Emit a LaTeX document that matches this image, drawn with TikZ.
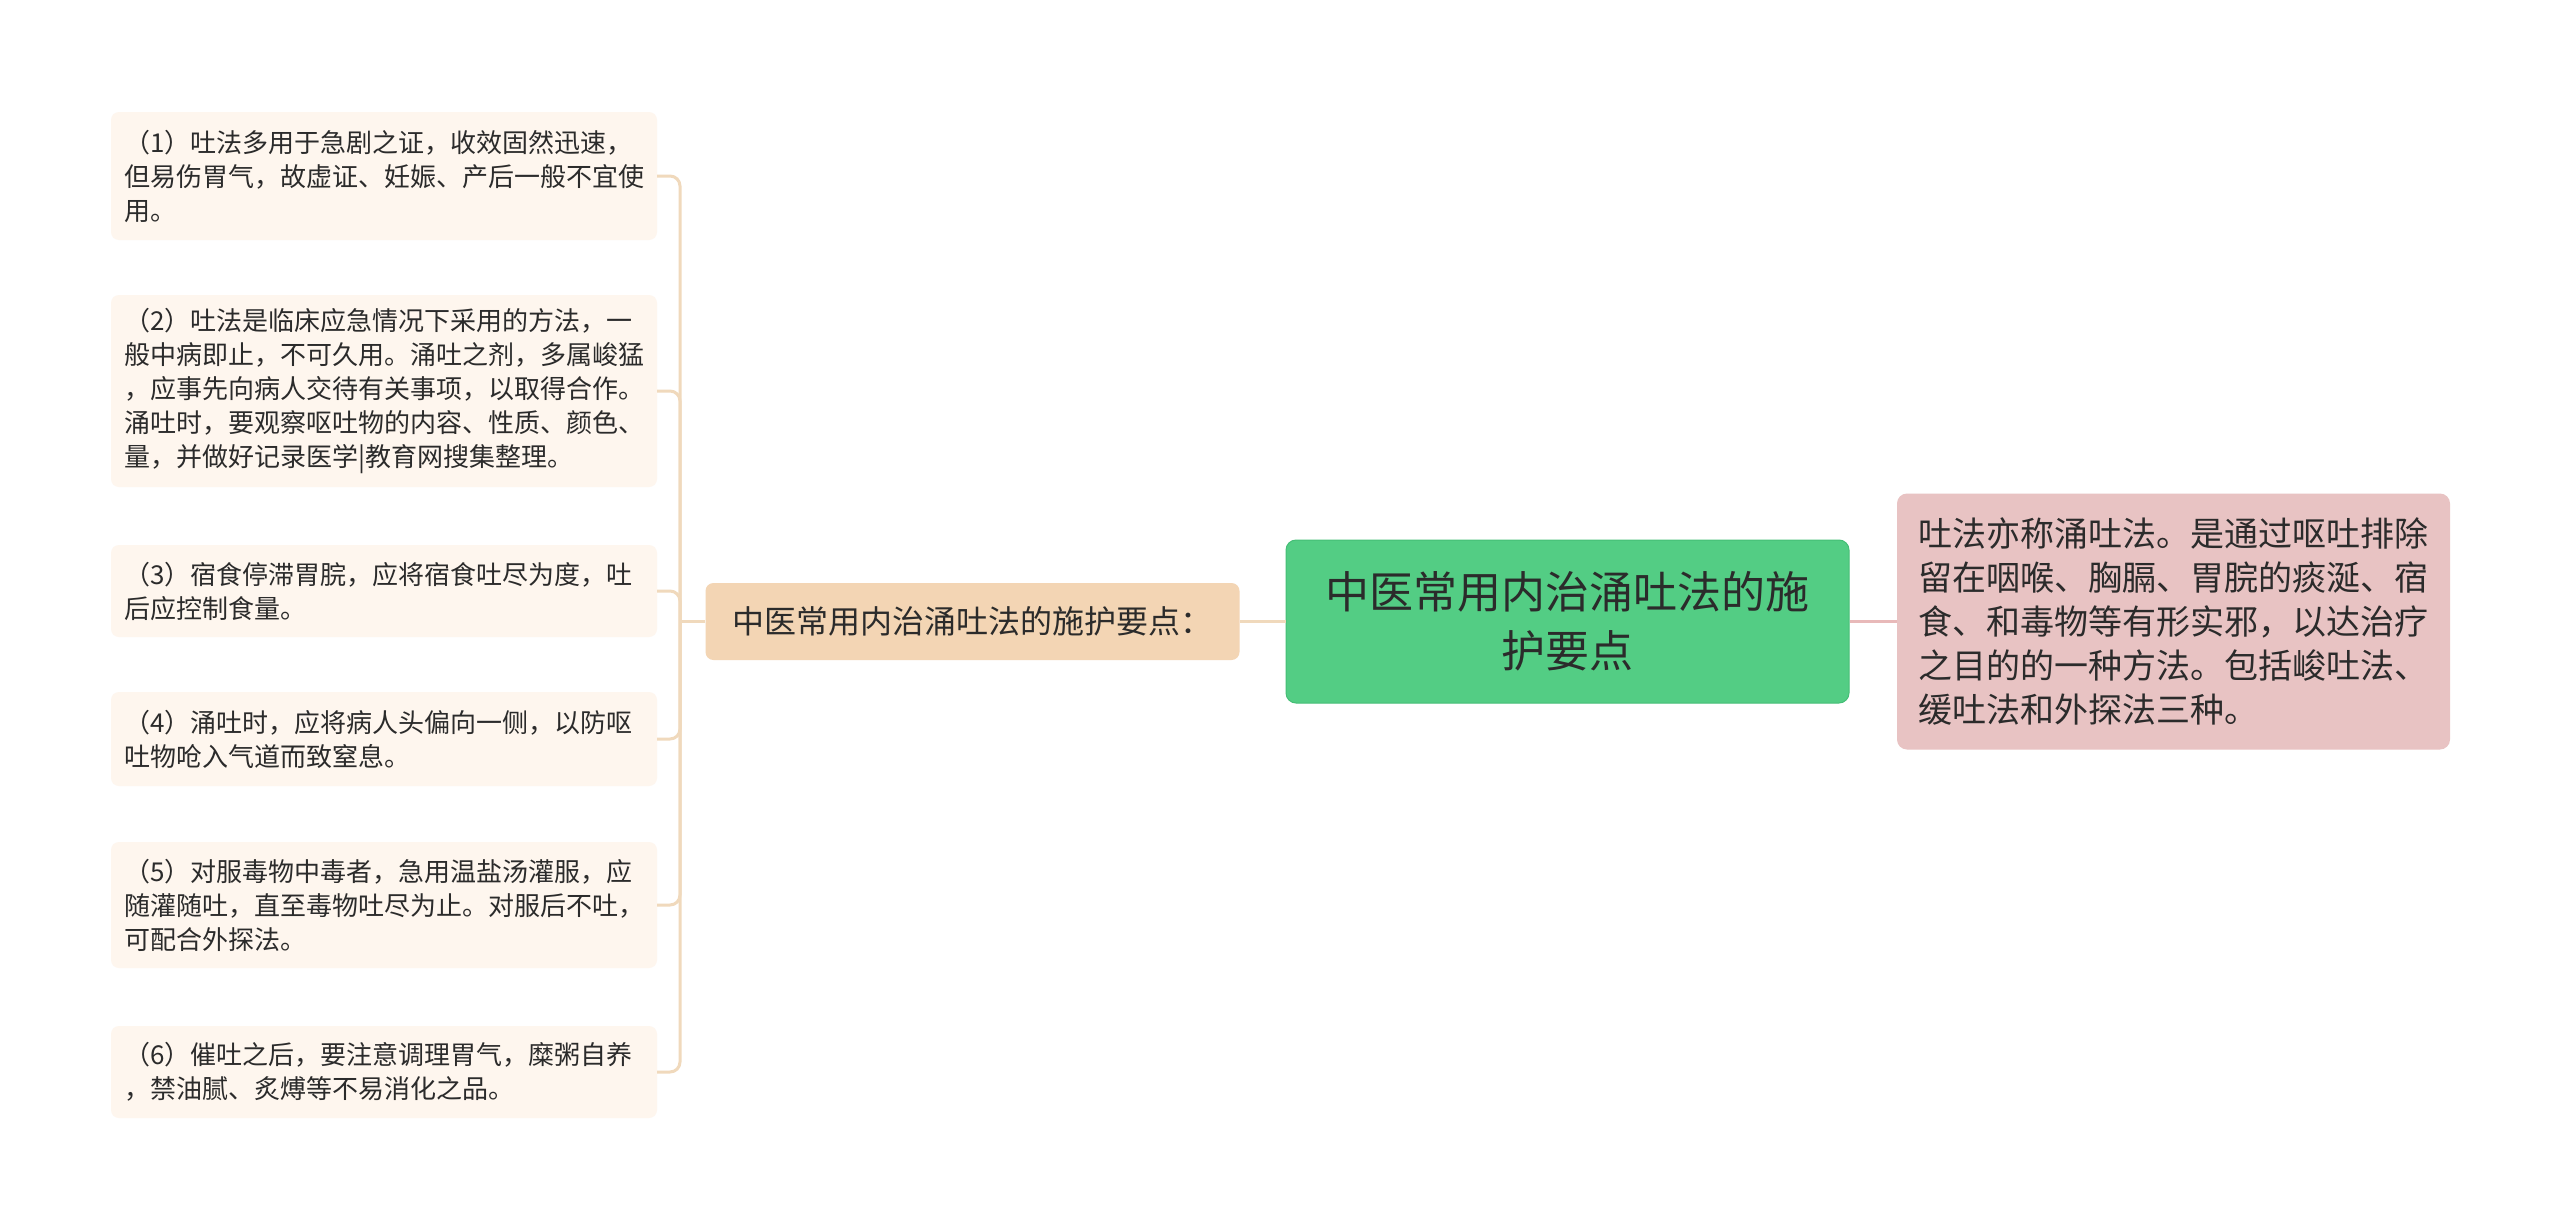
\documentclass[tikz,border=0pt]{standalone}
\usepackage{fontspec}
\newfontfamily\cjk{Noto Sans CJK SC}
\definecolor{leafc}{HTML}{FEF6EE}
\definecolor{midc}{HTML}{F3D5B4}
\definecolor{rootc}{HTML}{53CD84}
\definecolor{rootb}{HTML}{45BE76}
\definecolor{rightc}{HTML}{E8C3C3}
\definecolor{treec}{HTML}{F0D9BC}
\definecolor{rconnc}{HTML}{E8B9B9}
\definecolor{txt}{HTML}{2B2B2B}
\begin{document}
\begin{tikzpicture}[x=1pt,y=-1pt,
  leaf/.style={fill=leafc, rounded corners=8pt, text width=520pt, align=left,
    inner xsep=13pt, inner ysep=4pt, text=txt,
    font=\cjk\fontsize{26}{34}\selectfont},
  midnode/.style={fill=midc, rounded corners=8pt, inner xsep=27pt, inner ysep=4pt,
    minimum height=77pt, text=txt, font=\cjk\fontsize{32}{40}\selectfont},
  rootnode/.style={fill=rootc, draw=rootb, line width=1pt, rounded corners=10pt,
    minimum width=563pt, minimum height=163pt, align=center, text=txt,
    font=\cjk\fontsize{44}{59}\selectfont},
  rightnode/.style={fill=rightc, rounded corners=10pt, text width=510pt, align=left,
    inner xsep=21.5pt, inner ysep=4pt, minimum height=256pt, text=txt,
    font=\cjk\fontsize{34}{44}\selectfont},
  tree/.style={draw=treec, line width=3pt, rounded corners=10pt},
  rconn/.style={draw=rconnc, line width=3pt}
]
\useasboundingbox (0,0) rectangle (2560,1223);
\fill[white] (0,0) rectangle (2560,1223);

\node[rootnode] (root) at (1567.5,621.5) {中医常用内治涌吐法的施\\护要点};
\node[midnode] (mid) at (972.5,621.5) {中医常用内治涌吐法的施护要点：};
\node[rightnode] (right) at (2173.5,621.5) {吐法亦称涌吐法。是通过呕吐排除\\留在咽喉、胸膈、胃脘的痰涎、宿\\食、和毒物等有形实邪，以达治疗\\之目的的一种方法。包括峻吐法、\\缓吐法和外探法三种。};

\node[leaf, minimum height=128pt] (l1) at (384,176) {（1）吐法多用于急剧之证，收效固然迅速，\\但易伤胃气，故虚证、妊娠、产后一般不宜使\\用。};
\node[leaf, minimum height=192pt] (l2) at (384,391) {（2）吐法是临床应急情况下采用的方法，一\\般中病即止，不可久用。涌吐之剂，多属峻猛\\，应事先向病人交待有关事项，以取得合作。\\涌吐时，要观察呕吐物的内容、性质、颜色、\\量，并做好记录医学|教育网搜集整理。};
\node[leaf, minimum height=92pt] (l3) at (384,591) {（3）宿食停滞胃脘，应将宿食吐尽为度，吐\\后应控制食量。};
\node[leaf, minimum height=94pt] (l4) at (384,739) {（4）涌吐时，应将病人头偏向一侧，以防呕\\吐物呛入气道而致窒息。};
\node[leaf, minimum height=126pt] (l5) at (384,905) {（5）对服毒物中毒者，急用温盐汤灌服，应\\随灌随吐，直至毒物吐尽为止。对服后不吐，\\可配合外探法。};
\node[leaf, minimum height=92pt] (l6) at (384,1072) {（6）催吐之后，要注意调理胃气，糜粥自养\\，禁油腻、炙煿等不易消化之品。};

\coordinate (hub) at (680,621.5);
\draw[tree] (root.west) -- (mid.east);
\draw[tree] (mid.west) -- (hub);
\foreach \c in {l1,l2,l3,l4,l5,l6} {\draw[tree] (hub) |- (\c.east);}
\draw[rconn] (root.east) -- (right.west);
\end{tikzpicture}
\end{document}
